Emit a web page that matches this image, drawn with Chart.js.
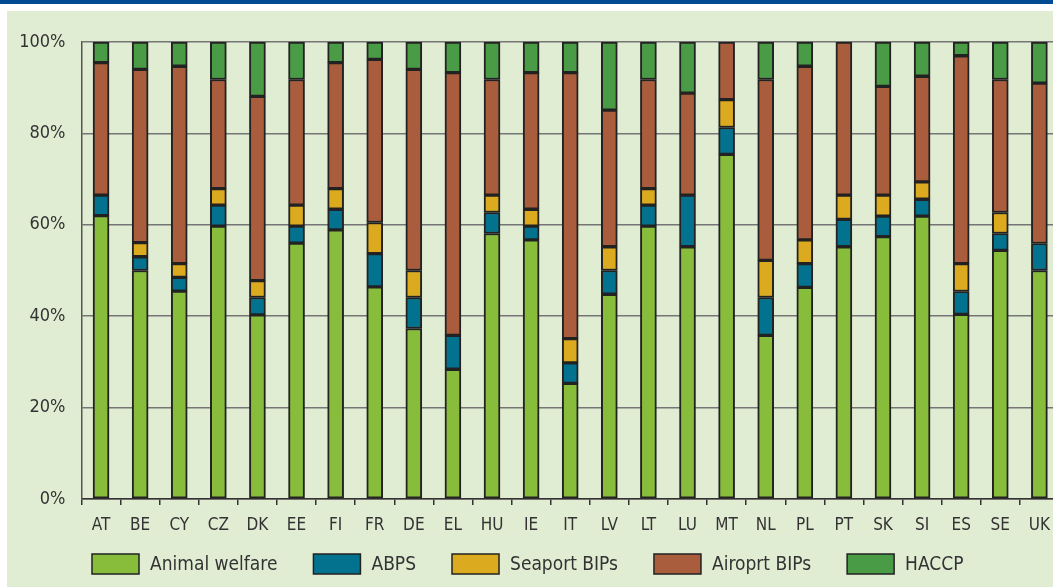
<!DOCTYPE html>
<html>
<head>
<meta charset="utf-8">
<script src="https://cdn.jsdelivr.net/npm/chart.js@4/dist/chart.umd.min.js"></script>
<style>
  html, body { margin: 0; padding: 0; background: #fff; width: 1053px; height: 587px; overflow: hidden; }
  #topbar { position: absolute; left: 0; top: 0; width: 1053px; height: 4px; background: #004b93; }
  #panel { position: absolute; left: 7px; top: 11px; width: 1053px; height: 576px; background: #e1edd3; }
</style>
</head>
<body>
<div id="topbar"></div>
<div id="panel"><canvas id="chart" width="1053" height="576"></canvas></div>
<script>
const countries = ['AT', 'BE', 'CY', 'CZ', 'DK', 'EE', 'FI', 'FR', 'DE', 'EL', 'HU', 'IE', 'IT',
  'LV', 'LT', 'LU', 'MT', 'NL', 'PL', 'PT', 'SK', 'SI', 'ES', 'SE', 'UK'];

// share of controls, %
const animalWelfare = [62.0, 50.0, 45.5, 59.7, 40.3, 56.0, 58.9, 46.4, 37.3, 28.4, 58.1, 56.7, 25.3,
  44.8, 59.7, 55.2, 75.4, 35.8, 46.3, 55.2, 57.4, 61.9, 40.4, 54.4, 50.0];
const abps = [4.5, 3.0, 3.0, 4.6, 3.8, 3.7, 4.5, 7.3, 6.8, 7.4, 4.6, 3.0, 4.5,
  5.2, 4.6, 11.3, 5.9, 8.3, 5.2, 6.0, 4.5, 3.7, 5.0, 3.7, 5.9];
const seaportBips = [0, 3.1, 3.0, 3.6, 3.7, 4.6, 4.5, 6.8, 5.9, 0, 3.8, 3.7, 5.3,
  5.2, 3.6, 0, 6.1, 8.1, 5.2, 5.3, 4.6, 3.8, 6.1, 4.6, 0];
const airportBips = [29.0, 37.9, 43.2, 23.9, 40.3, 27.5, 27.6, 35.7, 44.0, 57.5, 25.3, 29.9, 58.2,
  29.9, 23.9, 22.3, 12.6, 39.6, 38.0, 33.5, 23.8, 23.1, 45.5, 29.1, 35.1];
const haccp = [4.5, 6.0, 5.3, 8.2, 11.9, 8.2, 4.5, 3.8, 6.0, 6.7, 8.2, 6.7, 6.7,
  14.9, 8.2, 11.2, 0, 8.2, 5.3, 0, 9.7, 7.5, 3.0, 8.2, 9.0];

const yTicks = [0, 20, 40, 60, 80, 100];

const FONT = "'Liberation Sans Narrow', 'DejaVu Sans Condensed', 'Liberation Sans', sans-serif";
const EDGE = '#222';

function series(label, data, color) {
  return {
    label: label,
    data: data,
    backgroundColor: color,
    borderColor: EDGE,
    borderWidth: 2,
    borderSkipped: false,
    barThickness: 16
  };
}

// legend drawn along the bottom, like the original
const bottomLegend = {
  id: 'bottomLegend',
  afterDraw(chart) {
    const ctx = chart.ctx;
    ctx.save();
    ctx.font = '19px ' + FONT;
    ctx.textBaseline = 'middle';
    let x = 85;
    const y = 543;
    chart.data.datasets.forEach(ds => {
      ctx.fillStyle = ds.backgroundColor;
      ctx.fillRect(x, y, 47, 20);
      ctx.strokeStyle = EDGE;
      ctx.lineWidth = 1.5;
      ctx.strokeRect(x, y, 47, 20);
      ctx.fillStyle = '#333';
      ctx.fillText(ds.label, x + 58, y + 11);
      x += 58 + ctx.measureText(ds.label).width + 36;
    });
    ctx.restore();
  }
};

new Chart(document.getElementById('chart'), {
  type: 'bar',
  data: {
    labels: countries,
    datasets: [
      series('Animal welfare', animalWelfare, '#88bd3c'),
      series('ABPS', abps, '#03728f'),
      series('Seaport BIPs', seaportBips, '#dcaa1f'),
      series('Airoprt BIPs', airportBips, '#a95d3c'),
      series('HACCP', haccp, '#4a9b46')
    ]
  },
  options: {
    responsive: false,
    animation: false,
    layout: { padding: { top: 31, right: 0, bottom: 48, left: 0 } },
    plugins: {
      legend: { display: false },
      tooltip: { enabled: false }
    },
    scales: {
      x: {
        stacked: true,
        afterFit: scale => { scale.height = 40; },
        grid: { drawOnChartArea: false, drawTicks: true, tickLength: 6, color: '#333', lineWidth: 1.5 },
        border: { color: '#333', width: 1.5 },
        ticks: { color: '#333', padding: 10, font: { family: FONT, size: 17 } }
      },
      y: {
        stacked: true,
        min: 0,
        max: 100,
        afterFit: scale => { scale.width = 74.5; },
        afterBuildTicks: scale => { scale.ticks = yTicks.map(v => ({ value: v })); },
        grid: { color: '#757575', lineWidth: 1.5, drawTicks: false },
        border: { color: '#555', width: 1.5 },
        ticks: {
          color: '#333',
          padding: 16,
          font: { family: FONT, size: 18 },
          callback: v => v + '%'
        }
      }
    }
  },
  plugins: [bottomLegend]
});
</script>
</body>
</html>
